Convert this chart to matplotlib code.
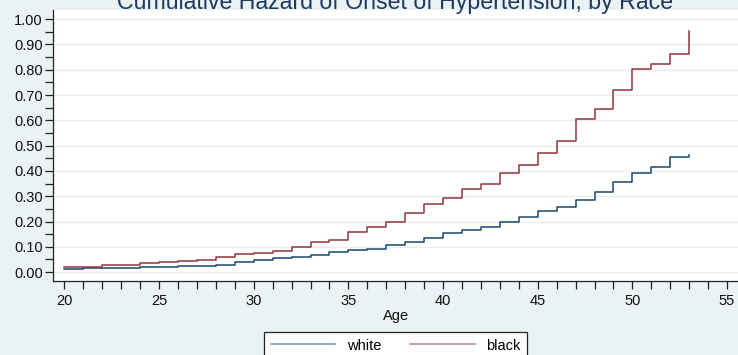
import numpy as np
import matplotlib.pyplot as plt

# Data (value holds from age until next age)
ages = [20, 21, 22, 23, 24, 25, 26, 27, 28, 29, 30, 31, 32, 33, 34, 35, 36,
        37, 38, 39, 40, 41, 42, 43, 44, 45, 46, 47, 48, 49, 50, 51, 52, 53]
haz_white = [0.012, 0.016, 0.016, 0.016, 0.019, 0.022, 0.026, 0.026, 0.030, 0.040,
             0.047, 0.054, 0.058, 0.069, 0.079, 0.088, 0.093, 0.109, 0.118, 0.133,
             0.153, 0.165, 0.180, 0.197, 0.216, 0.240, 0.257, 0.284, 0.315, 0.355,
             0.391, 0.417, 0.453, 0.461]
haz_black = [0.020, 0.020, 0.027, 0.027, 0.035, 0.039, 0.043, 0.049, 0.058, 0.070,
             0.076, 0.083, 0.100, 0.117, 0.125, 0.159, 0.180, 0.197, 0.233, 0.268,
             0.293, 0.328, 0.350, 0.390, 0.422, 0.469, 0.518, 0.605, 0.644, 0.720,
             0.803, 0.821, 0.862, 0.953]
x_ticks = [20, 25, 30, 35, 40, 45, 50, 55]
y_ticks = [0.0, 0.1, 0.2, 0.3, 0.4, 0.5, 0.6, 0.7, 0.8, 0.9, 1.0]

plt.rcParams['font.family'] = ['Liberation Sans', 'DejaVu Sans']

W, H = 738, 355
bg = '#eaf2f3'
fig = plt.figure(figsize=(W / 100, H / 100), dpi=100, facecolor=bg)

# Plot area in pixels: left 53, right 738, top 10, bottom 281
ax = fig.add_axes([53.3 / W, 1 - 280.7 / H, (738 - 53.3) / W, (280.7 - 10) / H])
ax.set_facecolor('white')

ax.step(ages, haz_white, where='post', color='#1a476f', linewidth=1.1, label='white')
ax.step(ages, haz_black, where='post', color='#90353b', linewidth=1.1, label='black')

ax.set_xlim(19.41, 55.58)
ax.set_ylim(-0.034, 1.036)

ax.set_xticks(x_ticks)
ax.set_xticks(np.arange(20, 56, 1), minor=True)
ax.set_yticks(y_ticks)
ax.set_yticks(np.arange(0.05, 1.0, 0.1), minor=True)
ax.set_yticklabels([f'{v:.2f}' for v in y_ticks])

ax.tick_params(axis='both', which='both', direction='out', length=5.5, width=0.9,
               color='#222222', labelsize=10.5, labelcolor='#111111')
ax.tick_params(axis='x', which='both', pad=4)
ax.tick_params(axis='y', which='both', pad=2)

ax.grid(True, axis='y', which='major', color='#e6eef0', linewidth=1.0)
ax.set_axisbelow(True)

for side in ['top', 'right']:
    ax.spines[side].set_visible(False)
for side in ['left', 'bottom']:
    ax.spines[side].set_color('#222222')
    ax.spines[side].set_linewidth(0.9)

ax.set_xlabel('Age', fontsize=10.5, color='#111111', labelpad=1)

# title sits partly above the top edge, as in the source image
fig.text(395.5 / W, 1 - 9 / H, 'Cumulative Hazard of Onset of Hypertension, by Race',
         ha='center', va='baseline', fontsize=16.7, color='#1e3a5f')

leg = fig.legend(loc='upper center', bbox_to_anchor=(395.8 / W, 1 - 332 / H), ncol=2,
                 fontsize=10.5, frameon=True, fancybox=False, edgecolor='#222222',
                 framealpha=1, handlelength=4.4, handletextpad=0.8, columnspacing=2.0,
                 borderpad=0.45, borderaxespad=0)
leg.get_frame().set_linewidth(0.9)
for line in leg.get_lines():
    line.set_alpha(0.6)

fig.savefig('out.png', dpi=100, facecolor=bg)
